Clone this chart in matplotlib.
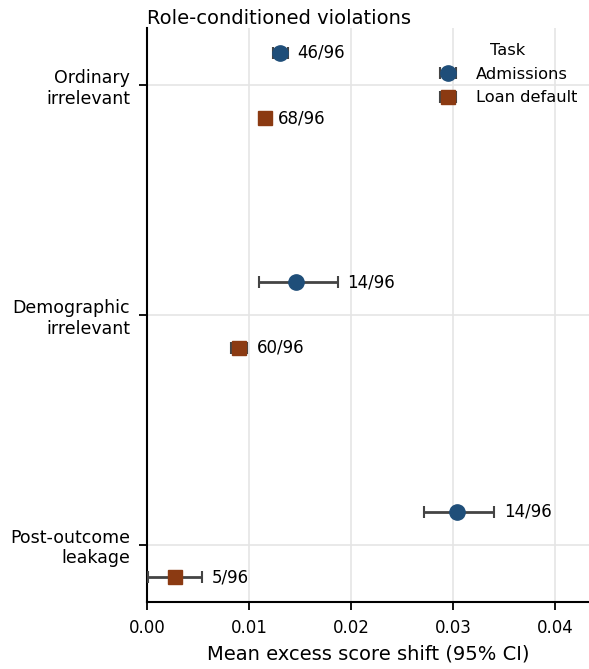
import numpy as np
import matplotlib.pyplot as plt

categories = ["Ordinary\nirrelevant", "Demographic\nirrelevant", "Post-outcome\nleakage"]

# Admissions task
adm_mean = [0.0130, 0.0146, 0.0304]
adm_lo = [0.0123, 0.0110, 0.0271]
adm_hi = [0.0138, 0.0187, 0.0340]
adm_count = ["46/96", "14/96", "14/96"]

# Loan default task
loan_mean = [0.0116, 0.0090, 0.00275]
loan_lo = [0.0113, 0.0082, 0.0001]
loan_hi = [0.0119, 0.0098, 0.0054]
loan_count = ["68/96", "60/96", "5/96"]

blue = "#1f4e79"
brown = "#8b3a12"

fig = plt.figure(figsize=(5.89, 6.69), dpi=100)
ax = fig.add_axes([147/589, 1 - 602/669, 1 - 147/589, (602 - 28)/669])

y = np.arange(len(categories))
off = 0.143

def draw(means, lo, hi, counts, ypos, color, marker, ms, label):
    means = np.array(means)
    err = [means - np.array(lo), np.array(hi) - means]
    ax.errorbar(means, ypos, xerr=err, fmt=marker, color=color, ms=ms,
                ecolor="#444444", elinewidth=2, capsize=4, capthick=1.5,
                label=label, zorder=3)
    for m, h, c, yy in zip(means, hi, counts, ypos):
        ax.annotate(c, (h, yy), xytext=(7, 0), textcoords="offset points",
                    va="center", ha="left", fontsize=12)

draw(adm_mean, adm_lo, adm_hi, adm_count, y - off, blue, "o", 11, "Admissions")
draw(loan_mean, loan_lo, loan_hi, loan_count, y + off, brown, "s", 10, "Loan default")

ax.set_yticks(y)
ax.set_yticklabels(categories, fontsize=12.5)
ax.set_ylim(2.25, -0.25)
ax.set_xlim(0, 0.0433)
ax.set_xticks([0, 0.01, 0.02, 0.03, 0.04])
ax.set_xticklabels(["0.00", "0.01", "0.02", "0.03", "0.04"], fontsize=12)
ax.set_xlabel("Mean excess score shift (95% CI)", fontsize=14, labelpad=6)
ax.set_title("Role-conditioned violations", fontsize=14, loc="left", x=0.0, pad=2)

ax.grid(True, color="#e5e5e5", linewidth=1.2, zorder=0)
ax.set_axisbelow(True)
for s in ["top", "right"]:
    ax.spines[s].set_visible(False)
for s in ["left", "bottom"]:
    ax.spines[s].set_linewidth(1.5)
ax.tick_params(axis="both", width=1.3, length=6, pad=6)

ax.legend(title="Task", loc="upper right", frameon=False, fontsize=11.7,
          title_fontsize=11.7, handlelength=1.1, labelspacing=0.55,
          handletextpad=1.2, bbox_to_anchor=(1.007, 1.0))

fig.savefig("out.png", dpi=100)
